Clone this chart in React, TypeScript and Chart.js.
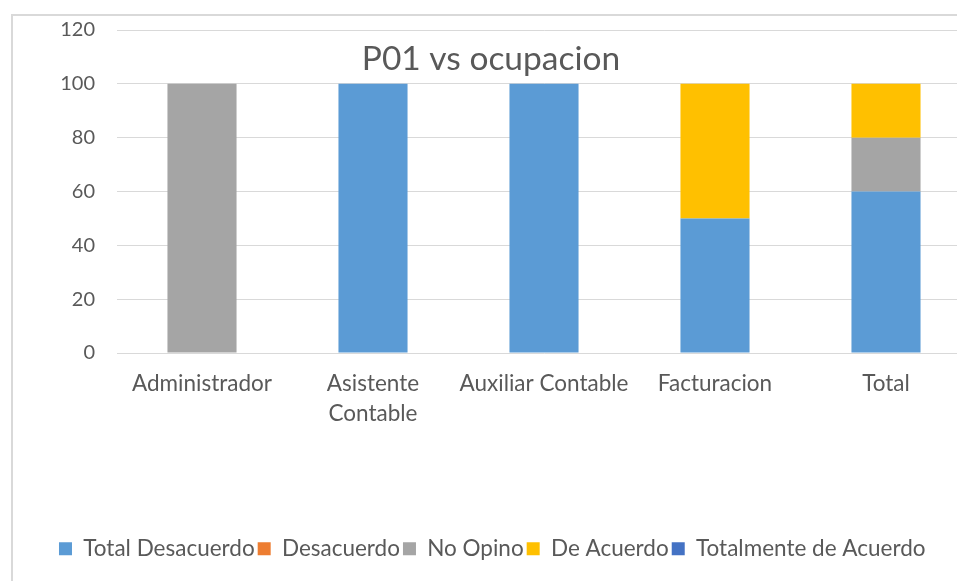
import React, { useEffect, useRef } from "react";
import { Chart, registerables } from "chart.js";

Chart.register(...registerables);

const categories: (string | string[])[] = [
  "Administrador",
  ["Asistente", "Contable"],
  "Auxiliar Contable",
  "Facturacion",
  "Total",
];
const totalDesacuerdo = [0, 100, 100, 50, 60];
const desacuerdo = [0, 0, 0, 0, 0];
const noOpino = [100, 0, 0, 0, 20];
const deAcuerdo = [0, 0, 0, 50, 20];
const totalmenteDeAcuerdo = [0, 0, 0, 0, 0];
const seriesNames = [
  "Total Desacuerdo",
  "Desacuerdo",
  "No Opino",
  "De Acuerdo",
  "Totalmente de Acuerdo",
];
const seriesColors = ["#5B9BD5", "#ED7D31", "#A5A5A5", "#FFC000", "#4472C4"];
const titleText = "P01 vs ocupacion";

const TEXT = "#595959";
const FONT = "Lato";

const CW = 965;
const CH = 554;

export default function App() {
  const ref = useRef<HTMLCanvasElement | null>(null);
  useEffect(() => {
    if (!ref.current) return;
    const values = [totalDesacuerdo, desacuerdo, noOpino, deAcuerdo, totalmenteDeAcuerdo];
    const titlePlugin = {
      id: "overlayTitle",
      afterDraw(chart: any) {
        const ctx = chart.ctx;
        ctx.save();
        ctx.fillStyle = TEXT;
        ctx.font = `33.5px ${FONT}`;
        ctx.textAlign = "center";
        ctx.textBaseline = "middle";
        ctx.fillText(titleText, 478, 43);
        ctx.restore();
      },
    };
    const chart = new Chart(ref.current, {
      type: "bar",
      data: {
        labels: categories,
        datasets: seriesNames.map((n, i) => ({
          label: n,
          data: values[i],
          backgroundColor: seriesColors[i],
          borderWidth: 0,
          barPercentage: 0.404,
          categoryPercentage: 1,
        })),
      },
      options: {
        responsive: false,
        animation: false,
        layout: { padding: { top: 14, right: 6.5, left: 0, bottom: 0 } },
        plugins: {
          title: { display: false },
          tooltip: { enabled: false },
          legend: {
            position: "bottom",
            labels: {
              boxWidth: 13,
              boxHeight: 13,
              padding: 3,
              color: TEXT,
              font: { family: FONT, size: 22.5 },
            },
          },
        },
        scales: {
          x: {
            stacked: true,
            grid: { display: false, drawTicks: false },
            border: { display: false },
            ticks: {
              color: TEXT,
              font: { family: FONT, size: 22.5, lineHeight: 1.333 },
              padding: 16,
              maxRotation: 0,
              autoSkip: false,
            },
            afterFit(scale: any) {
              scale.height = 181.5;
            },
          },
          y: {
            stacked: true,
            min: 0,
            max: 120,
            grid: {
              color: "#D9D9D9",
              lineWidth: 1,
              drawTicks: true,
              tickLength: 21.5,
              tickColor: "rgba(0,0,0,0)",
            },
            border: { display: false },
            ticks: {
              stepSize: 20,
              color: TEXT,
              font: { family: FONT, size: 20 },
              padding: 0,
            },
            afterFit(scale: any) {
              scale.width = 103.5;
            },
          },
        },
      },
      plugins: [titlePlugin],
    } as any);
    return () => chart.destroy();
  }, []);
  return (
    <div
      style={{
        position: "absolute",
        left: 0,
        top: 0,
        width: 957,
        height: 581,
        overflow: "hidden",
        background: "#fff",
      }}
    >
      <div
        style={{
          position: "absolute",
          left: 11,
          top: 14,
          width: CW,
          height: 620,
          border: "2px solid #D9D9D9",
          background: "#fff",
        }}
      >
        <canvas ref={ref} width={CW} height={CH} style={{ width: CW, height: CH, display: "block" }} />
      </div>
    </div>
  );
}
